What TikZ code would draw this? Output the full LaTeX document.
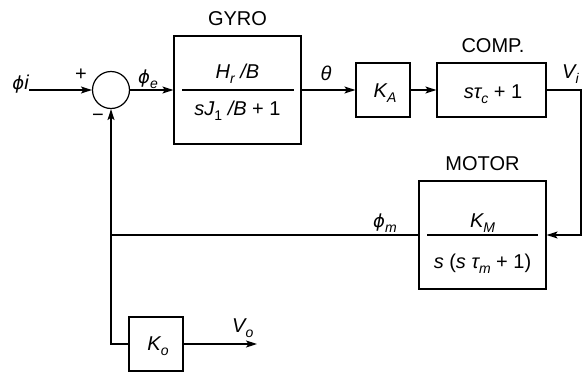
\documentclass[tikz,border=0pt]{standalone}
\usepackage{fontspec}
\setmainfont{Liberation Sans}
\newfontfamily\dvs{DejaVu Sans}[ItalicFont={DejaVu Sans Oblique}]
\usetikzlibrary{arrows.meta,calc}
\newcommand\vsub[1]{\raisebox{-5pt}{\fontsize{14}{14}\selectfont #1}}
\newcommand\vphi{{\dvs\itshape\fontsize{18}{18}\selectfont ϕ}}
\newcommand\up[1]{{\upshape #1}}
\tikzset{
  blk/.style={draw, line width=1.2pt, inner sep=0pt},
  wire/.style={line width=1.2pt},
  arr/.style={wire, -{Stealth[length=11pt,width=7pt,inset=2.5pt]}},
  lbl/.style={font=\fontsize{20}{22}\selectfont, inner sep=0pt},
  mth/.style={font=\fontsize{20}{22}\selectfont\itshape, inner sep=0pt},
}
\begin{document}
\begin{tikzpicture}[x=1pt,y=1pt]
\useasboundingbox (0,0) rectangle (583,-372);
% blocks
\node[blk, circle, minimum size=37pt] (sum) at (111,-90) {};
\node[blk, minimum width=127pt, minimum height=108pt] (gyro) at (237.5,-90) {};
\node[blk, minimum width=54pt, minimum height=54pt] (ka) at (383,-90) {};
\node[blk, minimum width=109pt, minimum height=54pt] (comp) at (491.5,-90) {};
\node[blk, minimum width=127pt, minimum height=108pt] (motor) at (482.5,-235) {};
\node[blk, minimum width=54pt, minimum height=54pt] (ko) at (156,-344) {};
% coordinates
\coordinate (in) at (29,-90);
\coordinate (vr) at (581,-235);
\coordinate (j) at (111,-235);
\coordinate (vo) at (257,-344);
% block labels
\node[lbl, anchor=base] (tgyro) at (237.5,-25) {GYRO};
\node[lbl, anchor=base] (tcomp) at (493,-52) {COMP.};
\node[lbl, anchor=base] (tmotor) at (482.5,-170) {MOTOR};
% block contents
\node[mth, anchor=base] (gnum) at (237.5,-78) {H\vsub{r} /B};
\node[mth, anchor=base] (gden) at (237.5,-115) {sJ\vsub{\upshape 1} /B \up{+ 1}};
\draw[wire] ($(gyro.west)+(9,0)$) -- ($(gyro.east)+(-8,0)$);
\node[mth, anchor=base] (kat) at (385,-97) {K\vsub{A}};
\node[mth, anchor=base] (compt) at (493,-98) {sτ\vsub{c} \up{+ 1}};
\node[mth, anchor=base] (mnum) at (482.5,-227) {K\vsub{M}};
\node[mth, anchor=base] (mden) at (482.5,-268) {s \up{(}s τ\vsub{m} \up{+ 1)}};
\draw[wire] ($(motor.west)+(9,0)$) -- ($(motor.east)+(-9,0)$);
\node[mth, anchor=base] (kot) at (158,-350) {K\vsub{o}};
% signal labels
\node[mth, anchor=base east] (tin) at (29,-89) {\vphi i};
\node[lbl, anchor=center] (tplus) at (81,-75) {+};
\node[lbl, anchor=center] (tminus) at (98,-118) {−};
\node[mth, anchor=base west] (tpe) at (138,-83) {\vphi\vsub{e}};
\node[mth, anchor=base] (tth) at (326,-80) {θ};
\node[mth, anchor=base west] (tvi) at (562,-78) {V\vsub{i}};
\node[mth, anchor=base west] (tpm) at (373,-227) {\vphi\vsub{m}};
\node[mth, anchor=base west] (tvo) at (232,-332) {V\vsub{o}};
% connectors
\draw[arr] (in) -- (sum.west);
\draw[arr] (sum.east) -- (gyro.west);
\draw[arr] (gyro.east) -- (ka.west);
\draw[arr] (ka.east) -- (comp.west);
\draw[arr] (comp.east) -| (vr) -- (motor.east);
\draw[wire] (motor.west) -- (j);
\draw[arr] (j) -- (sum.south);
\draw[wire] (j) |- (ko.west);
\draw[arr] (ko.east) -- (vo);
\end{tikzpicture}
\end{document}
